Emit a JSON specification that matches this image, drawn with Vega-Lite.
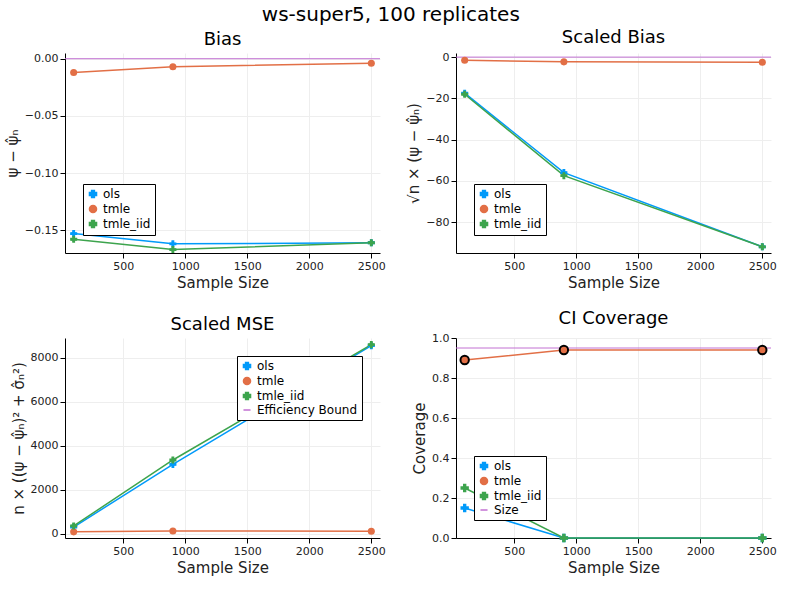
{
"$schema":"https://vega.github.io/schema/vega-lite/v6.json",
"title":{"text":"ws-super5, 100 replicates","fontSize":20,"font":"DejaVu Sans","fontWeight":"normal","anchor":"middle"},
"background":"white",
"config":{"font":"DejaVu Sans","view":{"stroke":null},"axis":{"domainColor":"black","tickColor":"black","gridColor":"#eeeeee","labelFontSize":11,"titleFontSize":15,"titleFontWeight":"normal","labelColor":"#222","titleColor":"#222"},"axisX":{"format":"d"},"title":{"fontSize":18,"fontWeight":"normal"},"legend":{"orient":"bottom-left","strokeColor":"black","fillColor":"white","padding":4,"labelFontSize":12,"symbolSize":50,"rowPadding":1,"title":null},"concat":{"spacing":20}},
"datasets":{"d":[
{"m":"bias","n":100,"e":"ols","v":-0.153},{"m":"bias","n":900,"e":"ols","v":-0.162},{"m":"bias","n":2500,"e":"ols","v":-0.161},
{"m":"bias","n":100,"e":"tmle","v":-0.012},{"m":"bias","n":900,"e":"tmle","v":-0.007},{"m":"bias","n":2500,"e":"tmle","v":-0.004},
{"m":"bias","n":100,"e":"tmle_iid","v":-0.158},{"m":"bias","n":900,"e":"tmle_iid","v":-0.167},{"m":"bias","n":2500,"e":"tmle_iid","v":-0.161},
{"m":"sbias","n":100,"e":"ols","v":-17.5},{"m":"sbias","n":900,"e":"ols","v":-56},{"m":"sbias","n":2500,"e":"ols","v":-92},
{"m":"sbias","n":100,"e":"tmle","v":-1.5},{"m":"sbias","n":900,"e":"tmle","v":-2.3},{"m":"sbias","n":2500,"e":"tmle","v":-2.5},
{"m":"sbias","n":100,"e":"tmle_iid","v":-18},{"m":"sbias","n":900,"e":"tmle_iid","v":-57.5},{"m":"sbias","n":2500,"e":"tmle_iid","v":-92},
{"m":"mse","n":100,"e":"ols","v":300},{"m":"mse","n":900,"e":"ols","v":3150},{"m":"mse","n":2500,"e":"ols","v":8550},
{"m":"mse","n":100,"e":"tmle","v":80},{"m":"mse","n":900,"e":"tmle","v":120},{"m":"mse","n":2500,"e":"tmle","v":110},
{"m":"mse","n":100,"e":"tmle_iid","v":350},{"m":"mse","n":900,"e":"tmle_iid","v":3350},{"m":"mse","n":2500,"e":"tmle_iid","v":8600},
{"m":"cov","n":100,"e":"ols","v":0.15},{"m":"cov","n":900,"e":"ols","v":0},{"m":"cov","n":2500,"e":"ols","v":0},
{"m":"cov","n":100,"e":"tmle","v":0.89},{"m":"cov","n":900,"e":"tmle","v":0.94},{"m":"cov","n":2500,"e":"tmle","v":0.94},
{"m":"cov","n":100,"e":"tmle_iid","v":0.25},{"m":"cov","n":900,"e":"tmle_iid","v":0},{"m":"cov","n":2500,"e":"tmle_iid","v":0}
],
"r":[{"m":"bias","e":"ref","v":0},{"m":"sbias","e":"ref","v":0},{"m":"cov","e":"Size","v":0.95}]},
"concat":[
{"title":{"text":"Bias","fontWeight":"normal"},"width":315,"height":200,
 "layer":[
  {"data":{"name":"r"},"transform":[{"filter":"datum.m=='bias'"}],"mark":{"type":"rule","color":"#C271D2"},"encoding":{"y":{"field":"v","type":"quantitative"}}},
  {"data":{"name":"d"},"transform":[{"filter":"datum.m=='bias'"}],"mark":{"type":"line","strokeWidth":1.5},"encoding":{"x":{"field":"n","type":"quantitative","title":"Sample Size","scale":{"domain":[30,2570],"nice":false},"axis":{"values":[500,1000,1500,2000,2500]}},"y":{"field":"v","type":"quantitative","title":"ψ − ψ̂ₙ","scale":{"domain":[-0.17,0.005],"nice":false},"axis":{"values":[0,-0.05,-0.1,-0.15],"format":".2f"}},"color":{"field":"e","type":"nominal","scale":{"domain":["ols","tmle","tmle_iid"],"range":["#009AFA","#E26F46","#3DA44D"]}},"shape":{"field":"e","scale":{"domain":["ols","tmle","tmle_iid"],"range":["cross","circle","cross"]}}}},
  {"data":{"name":"d"},"transform":[{"filter":"datum.m=='bias'"}],"mark":{"type":"point","filled":true,"size":50,"opacity":1},"encoding":{"x":{"field":"n","type":"quantitative"},"y":{"field":"v","type":"quantitative"},"color":{"field":"e","type":"nominal"},"shape":{"field":"e"}}}
 ]},
{"title":{"text":"Scaled Bias","fontWeight":"normal"},"width":315,"height":200,
 "layer":[
  {"data":{"name":"r"},"transform":[{"filter":"datum.m=='sbias'"}],"mark":{"type":"rule","color":"#C271D2"},"encoding":{"y":{"field":"v","type":"quantitative"}}},
  {"data":{"name":"d"},"transform":[{"filter":"datum.m=='sbias'"}],"mark":{"type":"line","strokeWidth":1.5},"encoding":{"x":{"field":"n","type":"quantitative","title":"Sample Size","scale":{"domain":[30,2570],"nice":false},"axis":{"values":[500,1000,1500,2000,2500]}},"y":{"field":"v","type":"quantitative","title":"√n × (ψ − ψ̂ₙ)","scale":{"domain":[-95,2],"nice":false},"axis":{"values":[0,-20,-40,-60,-80]}},"color":{"field":"e","type":"nominal","scale":{"domain":["ols","tmle","tmle_iid"],"range":["#009AFA","#E26F46","#3DA44D"]}},"shape":{"field":"e","scale":{"domain":["ols","tmle","tmle_iid"],"range":["cross","circle","cross"]}}}},
  {"data":{"name":"d"},"transform":[{"filter":"datum.m=='sbias'"}],"mark":{"type":"point","filled":true,"size":50,"opacity":1},"encoding":{"x":{"field":"n","type":"quantitative"},"y":{"field":"v","type":"quantitative"},"color":{"field":"e","type":"nominal"},"shape":{"field":"e"}}}
 ]},
{"title":{"text":"Scaled MSE","fontWeight":"normal"},"width":315,"height":200,
 "layer":[
  {"data":{"name":"d"},"transform":[{"filter":"datum.m=='mse'"}],"mark":{"type":"line","strokeWidth":1.5},"encoding":{"x":{"field":"n","type":"quantitative","title":"Sample Size","scale":{"domain":[30,2570],"nice":false},"axis":{"values":[500,1000,1500,2000,2500]}},"y":{"field":"v","type":"quantitative","title":"n × ((ψ − ψ̂ₙ)² + σ̂ₙ²)","scale":{"domain":[-200,8900],"nice":false},"axis":{"values":[0,2000,4000,6000,8000],"format":"d"}},"color":{"field":"e","type":"nominal","legend":{"orient":"top-right"},"scale":{"domain":["ols","tmle","tmle_iid","Efficiency Bound"],"range":["#009AFA","#E26F46","#3DA44D","#C271D2"]}},"shape":{"field":"e","scale":{"domain":["ols","tmle","tmle_iid","Efficiency Bound"],"range":["cross","circle","cross","stroke"]}}}},
  {"data":{"name":"d"},"transform":[{"filter":"datum.m=='mse'"}],"mark":{"type":"point","filled":true,"size":50,"opacity":1},"encoding":{"x":{"field":"n","type":"quantitative"},"y":{"field":"v","type":"quantitative"},"color":{"field":"e","type":"nominal"},"shape":{"field":"e"}}}
 ]},
{"title":{"text":"CI Coverage","fontWeight":"normal"},"width":315,"height":200,
 "layer":[
  {"data":{"name":"r"},"transform":[{"filter":"datum.m=='cov'"}],"mark":{"type":"rule"},"encoding":{"y":{"field":"v","type":"quantitative"},"color":{"field":"e","type":"nominal"}}},
  {"data":{"name":"d"},"transform":[{"filter":"datum.m=='cov'"}],"mark":{"type":"line","strokeWidth":1.5},"encoding":{"x":{"field":"n","type":"quantitative","title":"Sample Size","scale":{"domain":[30,2570],"nice":false},"axis":{"values":[500,1000,1500,2000,2500]}},"y":{"field":"v","type":"quantitative","title":"Coverage","scale":{"domain":[0,1],"nice":false},"axis":{"format":".1f","tickCount":5}},"color":{"field":"e","type":"nominal","scale":{"domain":["ols","tmle","tmle_iid","Size"],"range":["#009AFA","#E26F46","#3DA44D","#C271D2"]}},"shape":{"field":"e","scale":{"domain":["ols","tmle","tmle_iid","Size"],"range":["cross","circle","cross","stroke"]}}}},
  {"data":{"name":"d"},"transform":[{"filter":"datum.m=='cov'"}],"mark":{"type":"point","filled":true,"size":70,"opacity":1,"clip":false},"encoding":{"x":{"field":"n","type":"quantitative"},"y":{"field":"v","type":"quantitative"},"color":{"field":"e","type":"nominal"},"shape":{"field":"e"},"stroke":{"condition":{"test":"datum.e=='tmle'","value":"black"},"value":null}}}
 ]}
],
"columns":2,
"resolve":{"scale":{"color":"independent","shape":"independent"}}
}
